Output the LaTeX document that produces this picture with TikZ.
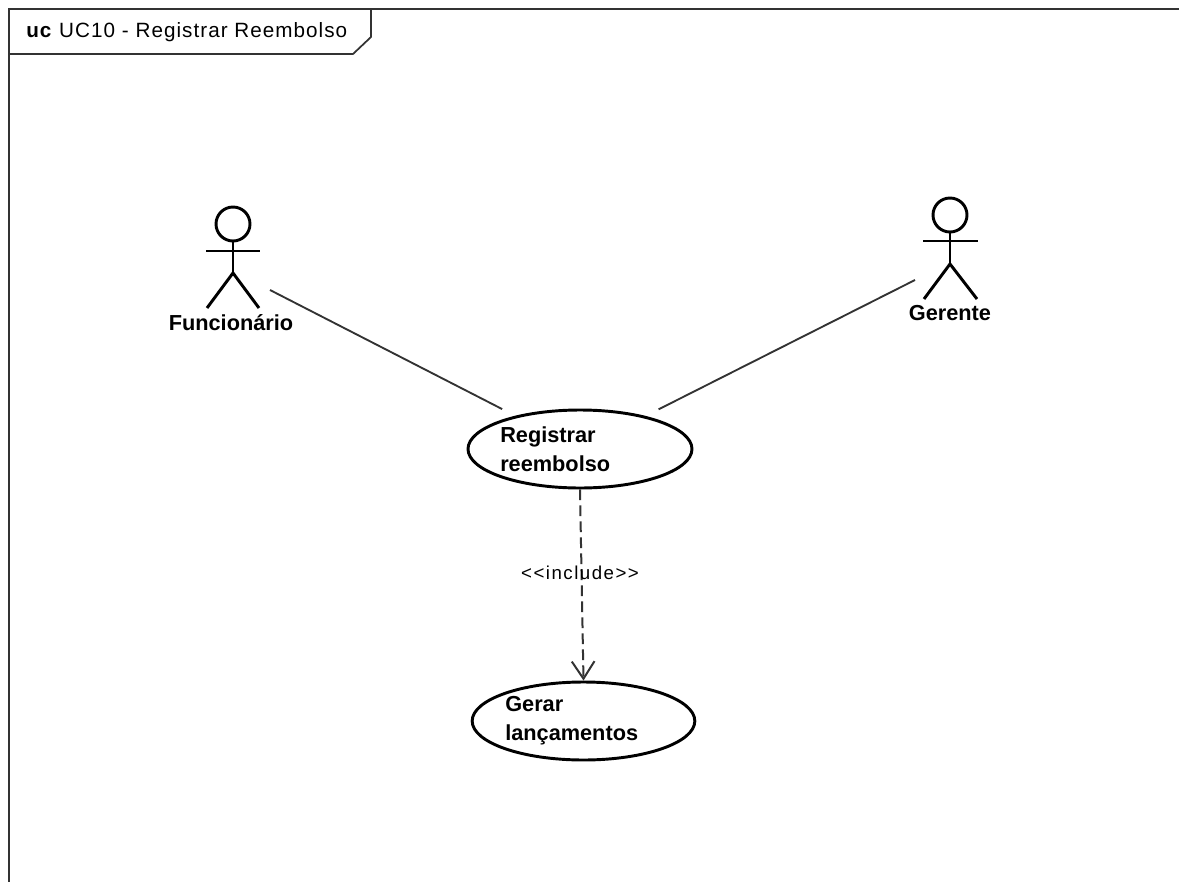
\documentclass[tikz,border=0pt]{standalone}
\usepackage{fontspec}
\setmainfont{Liberation Sans}
\newfontfamily\spacedfont[LetterSpace=5]{Liberation Sans}
\newfontfamily\widefont[LetterSpace=8]{Liberation Sans}
\usetikzlibrary{
    arrows.meta,
    shapes.geometric,
    positioning
}
\definecolor{linegray}{gray}{0.2}
\tikzset{
    usecase/.style={draw=black, ellipse, line width=2.2pt, inner sep=0pt},
    bigtext/.style={font=\bfseries\fontsize{16.3}{21.75}\selectfont, align=left, inner sep=0pt},
    actorhead/.style={draw=black, circle, line width=2.2pt, minimum size=25.5pt, inner sep=0pt},
    actorbody/.style={draw=black, line width=2.2pt},
    assoc/.style={draw=linegray, line width=1.4pt, shorten >=11pt},
    includes/.style={draw=linegray, line width=1.5pt, dash pattern=on 8pt off 4pt, -{Straight Barb[length=13pt,width=17pt,line width=1.5pt]}},
    frameline/.style={draw=linegray, line width=1.3pt}
}

\begin{document}
\begin{tikzpicture}[x=0.75pt,y=-0.75pt]
    \useasboundingbox (0,0) rectangle (1179,882);

    % frame
    \draw[frameline] (9,882) -- (9,9) -- (1179,9);
    \draw[frameline] (9,54) -- (353,54) -- (371,37) -- (371,9);
    \node[anchor=west, inner sep=0pt, font=\spacedfont\fontsize{15.5}{18}\selectfont] (title) at (26,32) {\textbf{uc} UC10 - Registrar Reembolso};

    % actors
    \node[actorhead] (funchead) at (233,224) {};
    \coordinate (funchip) at (233,273);
    \draw[actorbody] (funchead) -- (funchip);
    \draw[actorbody] (206,251) -- (260,251);
    \draw[actorbody] (207,308) -- (funchip) -- (259,308);
    \node[bigtext] (funcionario) at (231,323) {Funcionário};
    \coordinate (funcend) at (270,290);

    \node[actorhead] (gerhead) at (950,215) {};
    \coordinate (gerhip) at (950,264);
    \draw[actorbody] (gerhead) -- (gerhip);
    \draw[actorbody] (923,241) -- (978,241);
    \draw[actorbody] (924,299) -- (gerhip) -- (977,299);
    \node[bigtext] (gerente) at (950,313) {Gerente};
    \coordinate (gerend) at (915,280);

    % use cases
    \node[usecase, minimum width=168pt, minimum height=58.5pt] (registrar) at (580,449) {};
    \node[bigtext, anchor=west] (registrartext) at (500,449) {Registrar\\reembolso};
    \node[usecase, minimum width=167pt, minimum height=58.5pt] (gerar) at (583.5,721) {};
    \node[bigtext, anchor=west] (gerartext) at (505,721) {Gerar\\lançamentos};

    \draw[assoc] (funcend) -- (registrar);
    \draw[assoc] (gerend) -- (registrar);
    \draw[includes] (registrar.south) -- (gerar.north);

    \node[inner sep=0pt, font=\widefont\fontsize{14}{16}\selectfont] (include) at (580,573) {<{}<include>{}>};
\end{tikzpicture}
\end{document}
